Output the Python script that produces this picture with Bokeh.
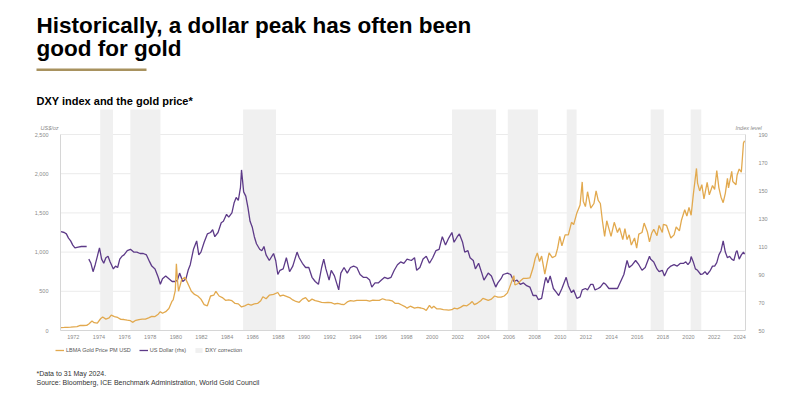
from bokeh.plotting import figure
from bokeh.models import (Range1d, LinearAxis, FixedTicker, NumeralTickFormatter,
                          Label, Legend, LegendItem, BoxAnnotation)
from bokeh.embed import file_html
from bokeh.resources import INLINE

# ---------------- data ----------------
gold_months = [
    "1971-01", "1971-04", "1971-07", "1971-10",
    "1972-01", "1972-04", "1972-07", "1972-10",
    "1973-01", "1973-03", "1973-06", "1973-08", "1973-11",
    "1974-02", "1974-04", "1974-07", "1974-10", "1974-12",
    "1975-03", "1975-06", "1975-09", "1975-12",
    "1976-03", "1976-06", "1976-08", "1976-11",
    "1977-02", "1977-05", "1977-08", "1977-11",
    "1978-02", "1978-05", "1978-08", "1978-10", "1978-12",
    "1979-03", "1979-06", "1979-09", "1979-10", "1979-12",
    "1980-01", "1980-02", "1980-03", "1980-06", "1980-09", "1980-11",
    "1981-01", "1981-03", "1981-06", "1981-09", "1981-12",
    "1982-03", "1982-06", "1982-09", "1982-12",
    "1983-02", "1983-05", "1983-08", "1983-11",
    "1984-02", "1984-05", "1984-08", "1984-11",
    "1985-02", "1985-05", "1985-08", "1985-11",
    "1986-02", "1986-05", "1986-08", "1986-10",
    "1987-01", "1987-04", "1987-08", "1987-12",
    "1988-02", "1988-05", "1988-08", "1988-11",
    "1989-02", "1989-05", "1989-08", "1989-11",
    "1990-02", "1990-05", "1990-08", "1990-11",
    "1991-02", "1991-05", "1991-08", "1991-11",
    "1992-02", "1992-05", "1992-08", "1992-11",
    "1993-02", "1993-05", "1993-08", "1993-11",
    "1994-02", "1994-05", "1994-08", "1994-11",
    "1995-02", "1995-05", "1995-08", "1995-11",
    "1996-02", "1996-05", "1996-08", "1996-11",
    "1997-02", "1997-05", "1997-08", "1997-11",
    "1998-01", "1998-04", "1998-08", "1998-11",
    "1999-02", "1999-05", "1999-07", "1999-10", "1999-12",
    "2000-02", "2000-05", "2000-08", "2000-11",
    "2001-02", "2001-04", "2001-07", "2001-09", "2001-12",
    "2002-03", "2002-06", "2002-09", "2002-12",
    "2003-02", "2003-04", "2003-07", "2003-10", "2003-12",
    "2004-02", "2004-05", "2004-08", "2004-11",
    "2005-02", "2005-05", "2005-08", "2005-11",
    "2006-01", "2006-05", "2006-06", "2006-09", "2006-11",
    "2007-02", "2007-05", "2007-08", "2007-11",
    "2008-01", "2008-03", "2008-05", "2008-07", "2008-10", "2008-12",
    "2009-02", "2009-05", "2009-08", "2009-10", "2009-12",
    "2010-02", "2010-05", "2010-08", "2010-11",
    "2011-01", "2011-04", "2011-07", "2011-09", "2011-10", "2011-12",
    "2012-02", "2012-05", "2012-08", "2012-10", "2012-12",
    "2013-02", "2013-04", "2013-06", "2013-08", "2013-10", "2013-12",
    "2014-03", "2014-06", "2014-08", "2014-11",
    "2015-01", "2015-03", "2015-05", "2015-07", "2015-10", "2015-12",
    "2016-02", "2016-05", "2016-07", "2016-10", "2016-12",
    "2017-02", "2017-04", "2017-07", "2017-09", "2017-12",
    "2018-01", "2018-04", "2018-08", "2018-11",
    "2019-01", "2019-04", "2019-06", "2019-09", "2019-11",
    "2020-01", "2020-03", "2020-05", "2020-08", "2020-09", "2020-11",
    "2021-01", "2021-03", "2021-06", "2021-08", "2021-11",
    "2022-01", "2022-03", "2022-05", "2022-07", "2022-09", "2022-11",
    "2023-01", "2023-02", "2023-05", "2023-06", "2023-09", "2023-10", "2023-12",
    "2024-02", "2024-03", "2024-04", "2024-05",
]
gold_usd = [
    37.5, 39, 41, 42.5,
    46, 49, 65, 64,
    65, 84, 120, 100, 95,
    150, 172, 145, 160, 195,
    178, 166, 142, 140,
    132, 125, 104, 130,
    140, 146, 145, 161,
    180, 178, 208, 240, 220,
    240, 280, 375, 390, 512,
    850, 650, 500, 650, 680, 620,
    560, 500, 460, 440, 400,
    330, 315, 440, 450,
    500, 440, 420, 385,
    390, 380, 345, 340,
    300, 315, 335, 325,
    340, 345, 380, 430,
    405, 450, 460, 485,
    440, 450, 435, 420,
    390, 370, 360, 400,
    420, 370, 400, 380,
    370, 360, 355, 360,
    355, 338, 345, 335,
    330, 365, 380, 375,
    385, 385, 385, 385,
    375, 387, 385, 385,
    405, 390, 388, 378,
    345, 345, 325, 305,
    285, 310, 285, 295,
    287, 275, 256, 320, 285,
    310, 275, 275, 265,
    262, 260, 265, 285, 276,
    295, 320, 315, 345,
    370, 330, 350, 380, 410,
    400, 385, 400, 440,
    425, 425, 440, 480,
    550, 700, 580, 600, 630,
    665, 665, 670, 800,
    920, 990, 880, 950, 720, 860,
    990, 930, 950, 1050, 1200,
    1080, 1220, 1220, 1380,
    1350, 1500, 1600, 1895, 1650, 1580,
    1770, 1560, 1620, 1780, 1660,
    1620, 1390, 1200, 1400, 1300, 1200,
    1380, 1250, 1310, 1160,
    1300, 1160, 1220, 1090, 1180, 1050,
    1230, 1250, 1370, 1260, 1130,
    1240, 1290, 1210, 1340, 1250,
    1355, 1340, 1180, 1220,
    1320, 1270, 1410, 1540, 1460,
    1570, 1470, 1730, 2067, 1880, 1780,
    1860, 1680, 1890, 1730, 1850,
    1800, 2040, 1820, 1700, 1630, 1750,
    1940, 1820, 2030, 1900, 1860, 1980, 2060,
    2020, 2200, 2390, 2420,
]

dxy_months = [
    "1971-01", "1971-04", "1971-06", "1971-08", "1971-10", "1971-12",
    "1972-02", "1972-05", "1972-08", "1972-11", "1973-01", "1973-02",
    "1973-03", "1973-05", "1973-07", "1973-09", "1973-11",
    "1974-01", "1974-03", "1974-05", "1974-07", "1974-09", "1974-11",
    "1975-02", "1975-04", "1975-06", "1975-08", "1975-10", "1975-12",
    "1976-03", "1976-06", "1976-09", "1976-12",
    "1977-03", "1977-06", "1977-09", "1977-12",
    "1978-02", "1978-05", "1978-08", "1978-10", "1978-12",
    "1979-03", "1979-06", "1979-09", "1979-12",
    "1980-02", "1980-04", "1980-07", "1980-10", "1980-12",
    "1981-02", "1981-05", "1981-08", "1981-10", "1981-12",
    "1982-03", "1982-06", "1982-09", "1982-11",
    "1983-01", "1983-04", "1983-07", "1983-09", "1983-12",
    "1984-02", "1984-05", "1984-07", "1984-09", "1984-11",
    "1985-01", "1985-02", "1985-04", "1985-06", "1985-08", "1985-10", "1985-12",
    "1986-02", "1986-04", "1986-07", "1986-09", "1986-11",
    "1987-01", "1987-04", "1987-08", "1987-10", "1987-12",
    "1988-02", "1988-05", "1988-08", "1988-11",
    "1989-02", "1989-06", "1989-08", "1989-11",
    "1990-02", "1990-05", "1990-08", "1990-11",
    "1991-02", "1991-05", "1991-07", "1991-09", "1991-12",
    "1992-02", "1992-05", "1992-09", "1992-11",
    "1993-02", "1993-05", "1993-08", "1993-11",
    "1994-02", "1994-05", "1994-08", "1994-11",
    "1995-02", "1995-04", "1995-07", "1995-10",
    "1996-01", "1996-04", "1996-07", "1996-10",
    "1997-01", "1997-04", "1997-07", "1997-10",
    "1998-01", "1998-05", "1998-08", "1998-10",
    "1999-01", "1999-04", "1999-07", "1999-10",
    "2000-01", "2000-04", "2000-07", "2000-10",
    "2001-01", "2001-04", "2001-07", "2001-09", "2001-12",
    "2002-02", "2002-05", "2002-07", "2002-10", "2002-12",
    "2003-03", "2003-05", "2003-08", "2003-11",
    "2004-01", "2004-05", "2004-08", "2004-12",
    "2005-02", "2005-05", "2005-07", "2005-11",
    "2006-02", "2006-05", "2006-08", "2006-11",
    "2007-02", "2007-05", "2007-08", "2007-11",
    "2008-02", "2008-04", "2008-07", "2008-10", "2008-11",
    "2009-01", "2009-03", "2009-06", "2009-09", "2009-11",
    "2010-02", "2010-06", "2010-08", "2010-11",
    "2011-01", "2011-04", "2011-07", "2011-09", "2011-12",
    "2012-02", "2012-05", "2012-07", "2012-09", "2012-12",
    "2013-02", "2013-05", "2013-07", "2013-10", "2013-12",
    "2014-03", "2014-06", "2014-09", "2014-12",
    "2015-03", "2015-05", "2015-08", "2015-11",
    "2016-02", "2016-05", "2016-08", "2016-12",
    "2017-01", "2017-04", "2017-07", "2017-09", "2017-12",
    "2018-02", "2018-05", "2018-08", "2018-11",
    "2019-02", "2019-05", "2019-08", "2019-10", "2019-12",
    "2020-02", "2020-03", "2020-05", "2020-07", "2020-09", "2020-12",
    "2021-02", "2021-04", "2021-06", "2021-09", "2021-11",
    "2022-01", "2022-03", "2022-05", "2022-07", "2022-09", "2022-11",
    "2023-01", "2023-03", "2023-05", "2023-07", "2023-09", "2023-10", "2023-12",
    "2024-02", "2024-04", "2024-05",
]
dxy_index = [
    120.6, 120, 119, 116, 114, 111,
    109, 109.5, 110, 110, 110, None,
    101, 98, 92, 97, 103,
    109, 101, 98, 102, 103, 99,
    94, 96, 95, 101, 103, 104,
    107, 108, 106, 106,
    105, 105, 104, 99,
    96, 94, 88, 83, 87,
    89, 87, 85, 85,
    86, 91, 85, 87, 93,
    97, 108, 114, 104, 106,
    113, 119, 120, 122,
    117, 120, 127, 128, 133,
    131, 134, 141, 145, 143,
    152, 164.7, 149, 146, 138, 128, 124,
    117, 112, 108, 107, 110,
    104, 100, 105, 100, 90,
    93, 94, 102, 92,
    96, 106, 102, 98,
    95, 95, 88, 85,
    83, 95, 101, 94, 86,
    93, 89, 79, 91,
    95, 91, 95, 96,
    95, 90, 88, 88,
    86, 81, 84, 84,
    86, 88, 87, 88,
    93, 97, 99, 98,
    101, 100, 102, 93,
    95, 101, 103, 98,
    102, 107, 108, 117,
    111, 116, 120, 113, 117,
    119, 113, 106, 107, 102,
    100, 94, 98, 91,
    86, 91, 89, 81,
    84, 87, 90, 91,
    90, 85, 86, 83,
    84, 82, 81, 75,
    75, 72, 73, 85, 88,
    84, 89, 80, 77, 75,
    80, 88, 82, 77,
    79, 73, 74, 79, 80,
    79, 83, 83, 79, 80,
    81, 84, 83, 80, 80,
    80, 80, 85, 90,
    100, 95, 97, 100,
    97, 93, 95, 103,
    101, 99, 94, 92, 93,
    89, 94, 96, 97,
    96, 98, 98, 99, 97,
    99, 102.8, 99, 94, 93, 90,
    90.5, 92, 90, 93, 96,
    96, 98.5, 104, 107, 114, 106,
    102, 103, 101, 100, 106, 107, 101,
    104, 106, 104.5,
]

band_start = [1974.1, 1976.45, 1985.25, 2001.55, 2005.9, 2010.5, 2017.05, 2020.17]
band_end = [1975.1, 1978.8, 1987.82, 2004.99, 2008.25, 2011.27, 2018.08, 2021.0]

year_ticks = list(range(1972, 2025, 2))
gold_ticks = [0, 500, 1000, 1500, 2000, 2500]
dxy_ticks = [50, 70, 90, 110, 130, 150, 170, 190]


def to_year(m):
    y, mo = m.split("-")
    return int(y) + (int(mo) - 0.5) / 12.0


gold_x = [to_year(m) for m in gold_months]
dxy_x = [to_year(m) for m in dxy_months]
dxy_y = [float("nan") if v is None else v for v in dxy_index]

# ---------------- layout (canvas pixels) ----------------
W, H = 792, 392
FL, FR, FT, FB = 60, 745, 109, 330        # chart box
X0, X1 = 1971.0, 2024.45                   # years at chart left / right
PX_2500 = 196                               # pixel height of 0..2500 (and 50..190)

xs = (X1 - X0) / (FR - FL)                  # years per px
ls = 2500 / PX_2500                         # USD per px
rs = 140 / PX_2500                          # index points per px
x_range = Range1d(X0 - FL * xs, X1 + (W - FR) * xs)
y_range = Range1d(-(H - FB) * ls, FB * ls)
r_range = Range1d(50 - (H - FB) * rs, 50 + FB * rs)
band_top = (FB - FT) * ls

FONT = "Liberation Sans"
GOLD = "#e2a94e"
PURPLE = "#5d3a88"
BAND = "#f0f0f0"
TICK = "#8a8a8a"
AXIS = "#d6d6d6"

p = figure(width=W, height=H, output_backend="svg", toolbar_location=None,
           title=None, x_range=x_range, y_range=y_range,
           x_axis_location=None, y_axis_location=None, min_border=0)
p.outline_line_color = None
p.background_fill_color = "white"
p.border_fill_color = "white"
p.extra_y_ranges = {"dxy": r_range}
p.grid.visible = False


def style_axis(ax, standoff):
    ax.axis_line_color = AXIS
    ax.major_tick_line_color = None
    ax.minor_tick_line_color = None
    ax.major_label_text_font = FONT
    ax.major_label_text_font_size = "5.5px"
    ax.major_label_text_color = TICK
    ax.major_label_standoff = standoff


xa = LinearAxis(fixed_location=0, bounds=(X0, X1), ticker=FixedTicker(ticks=year_ticks))
style_axis(xa, -2)
p.add_layout(xa, "below")

ya = LinearAxis(fixed_location=X0, bounds=(0, 2500), ticker=FixedTicker(ticks=gold_ticks),
                formatter=NumeralTickFormatter(format="0,0"))
style_axis(ya, 6)
p.add_layout(ya, "left")

ra = LinearAxis(y_range_name="dxy", fixed_location=X1, bounds=(50, 190),
                ticker=FixedTicker(ticks=dxy_ticks))
style_axis(ra, 7)
p.add_layout(ra, "right")

# gridlines at the left-axis ticks, across the chart width
grid_y = gold_ticks[1:]
p.segment(x0=[X0] * len(grid_y), x1=[X1] * len(grid_y), y0=grid_y, y1=grid_y,
          line_color="#ebebeb", line_width=1)

# marks
band_r = p.quad(left=band_start, right=band_end, bottom=0, top=band_top,
                fill_color=BAND, line_color=None)
dxy_r = p.line(dxy_x, dxy_y, y_range_name="dxy", line_color=PURPLE, line_width=1.3)
gold_r = p.line(gold_x, gold_usd, line_color=GOLD, line_width=1.3)

legend = Legend(items=[LegendItem(label="LBMA Gold Price PM USD", renderers=[gold_r]),
                       LegendItem(label="US Dollar (rhs)", renderers=[dxy_r]),
                       LegendItem(label="DXY correction", renderers=[band_r])],
                orientation="horizontal", location=(55, H - 352.5),
                label_text_font=FONT, label_text_font_size="5.5px",
                label_text_color="#555555", glyph_width=9, glyph_height=6,
                label_height=6, label_standoff=2, spacing=8, padding=0, margin=0,
                border_line_color=None, background_fill_alpha=0)
p.add_layout(legend)


def canvas_label(x, baseline, text, size, color="#000000", style="normal"):
    # the svg text box is centred a third of the font size above the given y
    p.add_layout(Label(x=x, y=baseline - 0.33 * size, x_units="canvas", y_units="canvas",
                       text=text, text_font=FONT, text_font_size=f"{size}px",
                       text_color=color, text_font_style=style, text_align="left",
                       text_baseline="alphabetic"))


canvas_label(36, 32, "Historically, a dollar peak has often been", 22.5, style="bold")
canvas_label(36, 55, "good for gold", 22.5, style="bold")
canvas_label(36, 104, "DXY index and the gold price*", 11, style="bold")
canvas_label(40, 129, "US$/oz", 5.5, TICK, "italic")
canvas_label(735, 129, "Index level", 5.5, TICK, "italic")
canvas_label(36, 375, "*Data to 31 May 2024.", 7, "#333333")
canvas_label(36, 384, "Source: Bloomberg, ICE Benchmark Administration, World Gold Council",
             7, "#333333")

p.add_layout(BoxAnnotation(left=36, right=146, top=68, bottom=70.5,
                           left_units="canvas", right_units="canvas",
                           top_units="canvas", bottom_units="canvas",
                           fill_color="#a8925f", fill_alpha=1, line_color=None))

open("out.html", "w").write(file_html(p, INLINE))
